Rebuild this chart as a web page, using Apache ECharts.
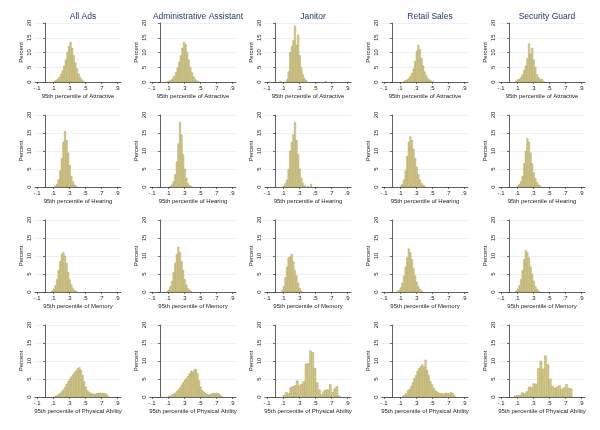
<!DOCTYPE html>
<html><head><meta charset="utf-8">
<script src="https://cdn.jsdelivr.net/npm/echarts@6/dist/echarts.min.js"></script>
<style>html,body{margin:0;padding:0;background:#fff}#c{width:600px;height:430px}</style>
</head><body><div id="c"></div><script>
// ---------- categories / labels ----------
const columns = ['All Ads', 'Administrative Assistant', 'Janitor', 'Retail Sales', 'Security Guard'];
const traits = ['Attractive', 'Hearing', 'Memory', 'Physical Ability'];
const xTicks = [-0.1, 0.1, 0.3, 0.5, 0.7, 0.9];
const yTicks = [0, 5, 10, 15, 20];

// ---------- histogram data: left edge of first bin, bin width, percent per bin ----------
// Attractive
const attrStart = [0.11, 0.09, 0.06, 0.14, 0.08];
const attrWidth = [0.02, 0.02, 0.02, 0.02, 0.02];
const attrAll = [0.3, 0.6, 1.0, 1.6, 2.6, 3.8, 5.5, 7.5, 10.0, 12.2, 13.5, 11.5, 9.0, 6.5, 4.5, 2.8, 1.6, 0.8, 0.3];
const attrAdmin = [0.2, 0.4, 0.7, 1.2, 2.0, 3.2, 4.8, 6.8, 9.0, 11.5, 13.5, 12.8, 10.0, 7.5, 5.0, 3.2, 1.8, 0.9, 0.4, 0.2];
const attrJanitor = [0.3, 0, 0, 0, 0.8, 3.5, 10.0, 12.0, 14.0, 19.0, 12.5, 16.0, 9.0, 5.0, 2.5, 1.2, 0.5, 0, 0, 0, 0, 0, 0, 0, 0, 0, 0, 0, 0.3];
const attrRetail = [0.2, 0.5, 0.8, 1.2, 2.0, 3.0, 4.5, 7.0, 10.5, 12.5, 11.0, 8.0, 5.5, 3.5, 2.2, 1.2, 0.7, 0.3, 0.1];
const attrSecurity = [0.3, 0.8, 1.0, 1.5, 2.5, 4.0, 5.5, 8.0, 13.0, 9.5, 11.5, 7.5, 5.0, 2.5, 1.5, 0.8, 1.0, 0.3];
// Hearing
const hearStart = [0.12, 0.12, 0.10, 0.10, 0.10];
const hearWidth = [0.02, 0.02, 0.02, 0.02, 0.02];
const hearAll = [0.3, 0.8, 2.0, 4.5, 8.0, 12.5, 15.5, 13.0, 9.5, 6.0, 3.0, 1.5, 0.6, 0.2];
const hearAdmin = [0.2, 0.6, 1.5, 3.5, 7.0, 12.0, 18.0, 14.5, 9.0, 5.0, 2.5, 1.0, 0.4, 0.2];
const hearJanitor = [0.3, 1.0, 2.0, 5.0, 10.0, 12.5, 14.5, 18.0, 13.0, 9.0, 5.0, 2.5, 1.0, 0.4, 0, 0.2, 0, 0.8];
const hearRetail = [0.3, 0.8, 2.0, 4.5, 8.5, 12.5, 14.0, 13.0, 10.5, 8.0, 5.5, 3.5, 2.0, 1.0, 0.5, 0.2];
const hearSecurity = [0.3, 0.7, 1.5, 3.0, 6.5, 10.0, 13.5, 12.5, 9.5, 6.5, 4.0, 2.5, 1.3, 0.6, 0.3];
// Memory
const memStart = [0.08, 0.08, 0.08, 0.06, 0.08];
const memWidth = [0.02, 0.02, 0.02, 0.02, 0.02];
const memAll = [0.3, 0.8, 1.8, 3.5, 6.0, 8.5, 10.5, 11.0, 10.0, 8.0, 5.5, 3.5, 2.0, 1.0, 0.4, 0.2];
const memAdmin = [0.2, 0.6, 1.5, 3.0, 5.5, 8.0, 10.5, 12.5, 11.0, 8.5, 6.0, 3.5, 2.0, 1.0, 0.5, 0.2];
const memJanitor = [0.5, 1.5, 4.0, 7.0, 9.5, 9.8, 10.5, 8.5, 6.0, 4.5, 2.5, 1.0, 0.3];
const memRetail = [0.2, 0.5, 1.2, 2.5, 4.5, 7.0, 9.5, 12.0, 11.0, 9.0, 6.5, 4.5, 2.8, 1.5, 0.8, 0.3];
const memSecurity = [0.3, 0.8, 1.8, 3.5, 6.0, 9.0, 11.5, 11.0, 9.5, 7.0, 5.0, 3.0, 1.5, 0.8, 0.3];
// Physical Ability
const physStart = [0.12, 0.10, 0.10, 0.13, 0.065];
const physWidth = [0.02, 0.02, 0.0275, 0.02, 0.029];
const physAll = [0.2, 0.4, 0.7, 1.0, 1.5, 2.0, 2.8, 3.5, 4.3, 5.0, 5.6, 6.2, 6.8, 7.3, 7.9, 8.2, 7.5, 6.0, 4.3, 2.8, 1.8, 1.4, 1.1, 0.9, 0.8, 0.8, 1.0, 1.1, 1.1, 1.1, 1.0, 1.0, 0.7, 0.2];
const physAdmin = [0.2, 0.3, 0.5, 0.8, 1.1, 1.5, 2.0, 2.6, 3.3, 4.0, 4.7, 5.2, 5.8, 6.5, 7.2, 7.0, 7.6, 7.7, 6.5, 4.5, 2.8, 1.8, 1.4, 1.0, 0.7, 0.6, 0.8, 1.0, 1.1, 1.0, 1.1, 1.0, 0.6, 0.2];
const physJanitor = [0.5, 1.3, 1.0, 2.6, 2.9, 3.2, 4.5, 3.2, 3.6, 4.3, 9.2, 9.3, 12.8, 12.4, 8.0, 4.0, 2.0, 0.8, 1.5, 2.0, 2.0, 3.5, 1.3, 2.3, 2.9, 0.3];
const physRetail = [0.3, 0.6, 1.0, 1.8, 2.2, 3.0, 4.0, 5.2, 6.0, 7.2, 8.0, 8.5, 9.0, 8.3, 10.3, 7.4, 6.0, 4.3, 3.5, 2.5, 1.8, 1.5, 1.2, 1.0, 1.0, 0.8, 1.0, 1.1, 0.9, 1.0, 1.3, 1.0, 0.4];
const physSecurity = [0.3, 0.5, 0.5, 1.2, 1.0, 1.5, 2.8, 2.6, 3.7, 3.6, 7.9, 10.0, 7.8, 11.5, 9.0, 5.0, 3.0, 2.5, 2.8, 3.2, 2.2, 2.6, 3.5, 2.5, 2.3];

const panels = [
  { start: attrStart, width: attrWidth, pct: [attrAll, attrAdmin, attrJanitor, attrRetail, attrSecurity] },
  { start: hearStart, width: hearWidth, pct: [hearAll, hearAdmin, hearJanitor, hearRetail, hearSecurity] },
  { start: memStart, width: memWidth, pct: [memAll, memAdmin, memJanitor, memRetail, memSecurity] },
  { start: physStart, width: physWidth, pct: [physAll, physAdmin, physJanitor, physRetail, physSecurity] }
];

// ---------- layout ----------
const colLeft = [35, 150, 265, 382, 499];
const plotW = 86;
const rowTop = [23, 115, 220, 325];
const rowH = [59, 72, 72, 72];
const FONT = 'Liberation Sans, Arial, sans-serif';
const BAR_FILL = '#d3c98b';
const BAR_EDGE = '#ab9e5c';

const fmtX = v => (v < 0 ? '-' : '') + Math.abs(v).toFixed(1).replace(/^0/, '');

const grids = [], xAxes = [], yAxes = [], series = [], titles = [];
for (let r = 0; r < 4; r++) {
  for (let c = 0; c < 5; c++) {
    const i = r * 5 + c;
    grids.push({ left: colLeft[c], top: rowTop[r], width: plotW, height: rowH[r] });
    xAxes.push({
      type: 'value', gridIndex: i, min: -0.125, max: 0.95,
      axisLine: { show: true, lineStyle: { color: '#3a3a3a', width: 0.8 } },
      axisTick: { show: true, customValues: xTicks, length: 2, lineStyle: { color: '#3a3a3a', width: 0.7 } },
      axisLabel: { customValues: xTicks, formatter: fmtX, fontSize: 6, color: '#222', margin: 3, fontFamily: FONT },
      splitLine: { show: false },
      name: '95th percentile of ' + traits[r], nameLocation: 'middle', nameGap: 11,
      nameTextStyle: { fontSize: 6, color: '#222', fontFamily: FONT }
    });
    yAxes.push({
      type: 'value', gridIndex: i, min: 0, max: 20, interval: 5,
      axisLine: { show: true, lineStyle: { color: '#3a3a3a', width: 0.8 } },
      axisTick: { show: true, length: 2, lineStyle: { color: '#3a3a3a', width: 0.7 } },
      axisLabel: { rotate: 90, fontSize: 6, color: '#222', margin: 3, fontFamily: FONT },
      splitLine: { show: true, lineStyle: { color: '#e2eaed', width: 0.7 } },
      name: 'Percent', nameLocation: 'middle', nameGap: 11, nameRotate: 90,
      nameTextStyle: { fontSize: 6, color: '#222', fontFamily: FONT }
    });
    const p = panels[r];
    const data = [];
    p.pct[c].forEach((v, k) => {
      if (v > 0) {
        const x0 = p.start[c] + k * p.width[c];
        data.push([x0, x0 + p.width[c], v]);
      }
    });
    series.push({
      type: 'custom', xAxisIndex: i, yAxisIndex: i, data: data,
      encode: { x: [0, 1], y: 2 },
      renderItem: (params, api) => {
        const a = api.coord([api.value(0), api.value(2)]);
        const b = api.coord([api.value(1), 0]);
        return { type: 'rect', shape: { x: a[0], y: a[1], width: b[0] - a[0], height: b[1] - a[1] },
                 style: { fill: BAR_FILL, stroke: BAR_EDGE, lineWidth: 0.4 } };
      }
    });
  }
}
columns.forEach((name, c) => {
  titles.push({ text: name, left: colLeft[c] + plotW / 2, top: 7, textAlign: 'center',
    textStyle: { fontSize: 8.5, fontWeight: 'normal', color: '#1f3a6e', fontFamily: FONT } });
});

const chart = echarts.init(document.getElementById('c'), null, { renderer: 'canvas' });
chart.setOption({
  animation: false, backgroundColor: '#ffffff',
  title: titles, grid: grids, xAxis: xAxes, yAxis: yAxes, series: series
});
</script></body></html>
